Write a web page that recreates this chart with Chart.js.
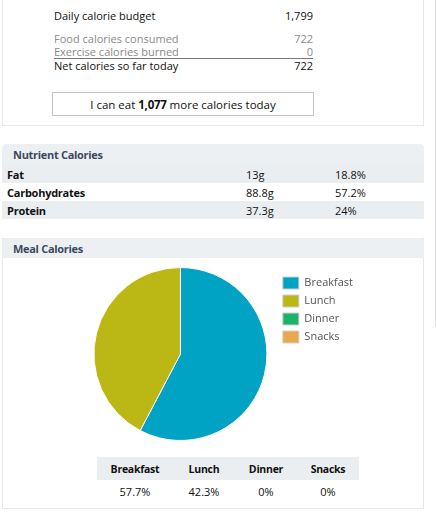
<!DOCTYPE html>
<html>
<head>
<meta charset="utf-8">
<script src="https://cdn.jsdelivr.net/npm/chart.js@4"></script>
<style>
  body { margin: 0; background: #fff; font-family: "Open Sans", sans-serif; font-size: 11px; color: #111; }
  b, th, .bold { letter-spacing: -0.25px; }
  .abs { position: absolute; }
  .panel { position: absolute; left: 2px; width: 422px; border: 1px solid #e6e8ea; box-sizing: border-box; background: #fff; }
  .row { position: absolute; left: 54px; width: 259px; height: 14px; line-height: 14px; }
  .row span.v { position: absolute; right: 0; }
  .gray { color: #8a8a8a; }
  .hdr { position: absolute; left: 0; right: 0; top: 0; background: #edf0f3; color: #3a4a5e; font-weight: bold; font-size: 11px; letter-spacing: -0.3px; padding-left: 11px; border-radius: 4px 4px 0 0; }
  table.nut { position: absolute; left: 0; width: 100%; border-collapse: collapse; }
  table.nut td { height: 18px; padding: 0; font-size: 11px; }
  table.meal { position: absolute; left: 97px; top: 457px; border-collapse: collapse; }
  table.meal th { background: #ebeef1; height: 23px; padding: 0; font-weight: bold; font-size: 10.5px; text-align: center; }
  table.meal td { height: 22px; padding: 0; text-align: center; }
</style>
</head>
<body>
<div class="abs" style="left:435px;top:0;width:1px;height:327px;background:#e2e2e2"></div>

<!-- budget panel -->
<div class="panel" style="top:-10px;height:136px;border-top:none"></div>
<div class="row" style="top:9px"><span id="lblBudget"></span><span class="v" id="valBudget"></span></div>
<div class="row gray" style="top:32px"><span id="lblFood"></span><span class="v" id="valFood"></span></div>
<div class="row gray" style="top:45px;border-bottom:1px solid #777;height:13px"><span id="lblExercise"></span><span class="v" id="valExercise"></span></div>
<div class="row" style="top:59px"><span id="lblNet"></span><span class="v" id="valNet"></span></div>
<div class="abs" id="remain" style="left:52px;top:92px;width:262px;height:24px;line-height:24px;border:1px solid #c4c4c4;box-sizing:border-box;text-align:center;font-size:11.5px"></div>

<!-- nutrient panel -->
<div class="panel" style="top:144px;height:76px;border:none">
  <div class="hdr" style="height:21px;line-height:21px">Nutrient Calories</div>
  <table class="nut" style="top:21px" id="nutTable"></table>
</div>

<!-- meal panel -->
<div class="panel" style="top:238px;height:271px">
  <div class="hdr" style="height:20px;line-height:21px;top:-1px;left:-1px;right:-1px">Meal Calories</div>
</div>
<div class="abs" style="left:84px;top:267px;width:279px;height:174px">
  <canvas id="mealChart"></canvas>
</div>
<table class="meal" id="mealTable"></table>

<script>
const budgetLabels = ['Daily calorie budget', 'Food calories consumed', 'Exercise calories burned', 'Net calories so far today'];
const budgetValues = [1799, 722, 0, 722];
const remaining = 1077;

const nutrientNames = ['Fat', 'Carbohydrates', 'Protein'];
const nutrientGrams = ['13g', '88.8g', '37.3g'];
const nutrientPercents = ['18.8%', '57.2%', '24%'];

const mealLabels = ['Breakfast', 'Lunch', 'Dinner', 'Snacks'];
const mealPercents = [57.7, 42.3, 0, 0];
const mealColors = ['#00a3c4', '#bbb714', '#1bb36c', '#e9a84c'];

// === TOP NUMBERS ===
const ids = ['Budget', 'Food', 'Exercise', 'Net'];
ids.forEach((id, i) => {
  document.getElementById('lbl' + id).textContent = budgetLabels[i];
  document.getElementById('val' + id).textContent = budgetValues[i].toLocaleString('en-US');
});
document.getElementById('remain').innerHTML = 'I can eat <b>' + remaining.toLocaleString('en-US') + '</b> more calories today';

// === NUTRIENT TABLE ===
const nutTable = document.getElementById('nutTable');
nutrientNames.forEach((n, i) => {
  const tr = document.createElement('tr');
  tr.style.background = i % 2 === 0 ? '#ebeef1' : '#fff';
  tr.innerHTML = '<td class="bold" style="width:239px;padding-left:5px;font-weight:bold">' + n + '</td>' +
    '<td style="width:89px">' + nutrientGrams[i] + '</td><td>' + nutrientPercents[i] + '</td>';
  nutTable.appendChild(tr);
});

// === MEAL TABLE ===
const colW = [76, 62, 62, 62];
const mealTable = document.getElementById('mealTable');
mealTable.innerHTML = '<tr>' + mealLabels.map((l, i) => '<th style="width:' + colW[i] + 'px">' + l + '</th>').join('') + '</tr>' +
  '<tr>' + mealPercents.map(p => '<td>' + p + '%</td>').join('') + '</tr>';

// === PIE ===
new Chart(document.getElementById('mealChart'), {
  type: 'pie',
  data: {
    labels: mealLabels,
    datasets: [{
      data: mealPercents,
      backgroundColor: mealColors,
      borderColor: '#fff',
      borderWidth: 1
    }]
  },
  options: {
    responsive: true,
    maintainAspectRatio: false,
    animation: false,
    layout: { padding: 0 },
    plugins: {
      tooltip: { enabled: false },
      legend: {
        position: 'right',
        align: 'start',
        title: { display: true, text: '', font: { size: 4, lineHeight: 1 }, padding: 0 },
        labels: {
          boxWidth: 16,
          boxHeight: 12,
          padding: 6,
          color: '#555',
          font: { family: '"Open Sans", sans-serif', size: 11 },
          generateLabels: chart => Chart.overrides.pie.plugins.legend.labels.generateLabels(chart).map(item => {
            item.strokeStyle = '#cfcfcf';
            item.lineWidth = 1;
            return item;
          })
        }
      }
    }
  }
});
</script>
</body>
</html>
